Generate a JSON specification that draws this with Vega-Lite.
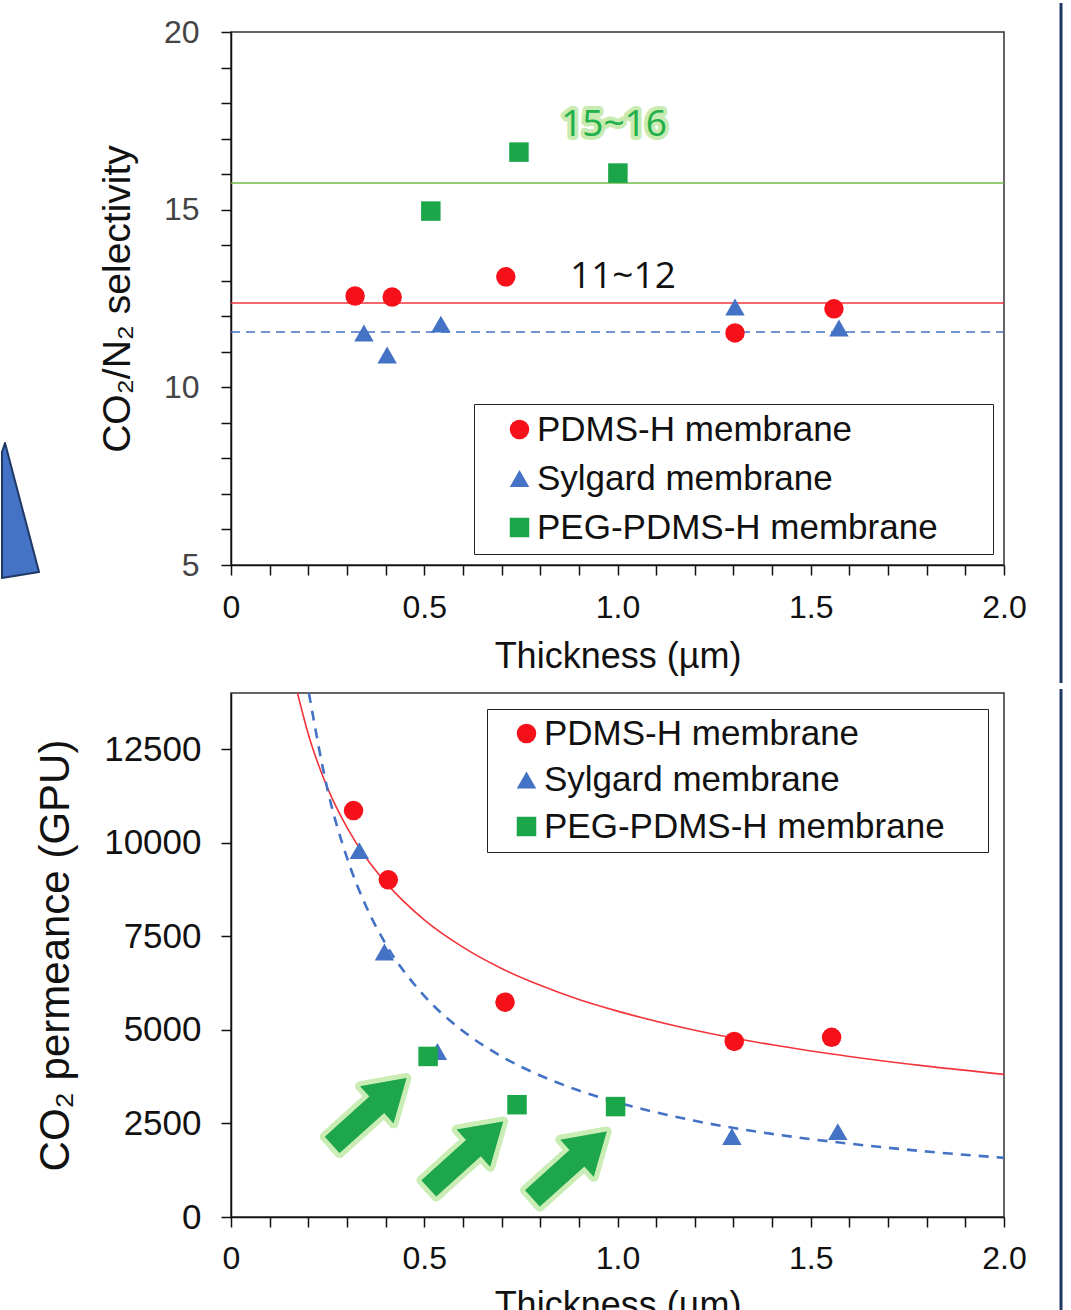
{
  "$schema": "https://vega.github.io/schema/vega-lite/v6.json",
  "padding": 0,
  "background": "white",
  "spacing": 0,
  "config": {
    "view": {"stroke": "#333333", "strokeWidth": 1.5},
    "font": "Liberation Sans",
    "axis": {
      "grid": false, "domainColor": "#111111", "domainWidth": 1.5,
      "tickColor": "#111111", "tickWidth": 1.5, "tickSize": 10,
      "labelFont": "Liberation Sans", "titleFont": "Liberation Sans",
      "labelColor": "#111111", "titleColor": "#111111", "titleFontWeight": "normal",
      "labelFlush": false, "labelOverlap": false
    }
  },
  "datasets": {
    "sel": [
      {"series": "PDMS-H membrane", "t": 0.321, "v": 12.57},
      {"series": "PDMS-H membrane", "t": 0.417, "v": 12.54},
      {"series": "PDMS-H membrane", "t": 0.711, "v": 13.11},
      {"series": "PDMS-H membrane", "t": 1.304, "v": 11.53},
      {"series": "PDMS-H membrane", "t": 1.56, "v": 12.21},
      {"series": "Sylgard membrane", "t": 0.344, "v": 11.53},
      {"series": "Sylgard membrane", "t": 0.404, "v": 10.91},
      {"series": "Sylgard membrane", "t": 0.543, "v": 11.78},
      {"series": "Sylgard membrane", "t": 1.304, "v": 12.26},
      {"series": "Sylgard membrane", "t": 1.573, "v": 11.67},
      {"series": "PEG-PDMS-H membrane", "t": 0.517, "v": 14.96},
      {"series": "PEG-PDMS-H membrane", "t": 0.745, "v": 16.62},
      {"series": "PEG-PDMS-H membrane", "t": 1.001, "v": 16.03}
    ],
    "selLines": [
      {"series": "PEG-PDMS-H membrane", "t": 0, "t2": 2, "v": 15.75},
      {"series": "PDMS-H membrane", "t": 0, "t2": 2, "v": 12.37},
      {"series": "Sylgard membrane", "t": 0, "t2": 2, "v": 11.56}
    ],
    "selNotes": [
      {"label": "15~16", "t": 0.991, "v": 17.38},
      {"label": "11~12", "t": 1.014, "v": 13.11}
    ],
    "perm": [
      {"series": "PDMS-H membrane", "t": 0.317, "v": 10860},
      {"series": "PDMS-H membrane", "t": 0.407, "v": 9010},
      {"series": "PDMS-H membrane", "t": 0.709, "v": 5740},
      {"series": "PDMS-H membrane", "t": 1.302, "v": 4690},
      {"series": "PDMS-H membrane", "t": 1.554, "v": 4800},
      {"series": "Sylgard membrane", "t": 0.332, "v": 9790},
      {"series": "Sylgard membrane", "t": 0.397, "v": 7080},
      {"series": "Sylgard membrane", "t": 0.534, "v": 4420},
      {"series": "Sylgard membrane", "t": 1.296, "v": 2150},
      {"series": "Sylgard membrane", "t": 1.57, "v": 2280},
      {"series": "PEG-PDMS-H membrane", "t": 0.51, "v": 4290},
      {"series": "PEG-PDMS-H membrane", "t": 0.74, "v": 3000},
      {"series": "PEG-PDMS-H membrane", "t": 0.995, "v": 2950}
    ],
    "fits": [
      {"series": "PDMS-H membrane", "t": 0.172, "v": 14000},
      {"series": "PDMS-H membrane", "t": 0.2, "v": 12900},
      {"series": "PDMS-H membrane", "t": 0.25, "v": 11460},
      {"series": "PDMS-H membrane", "t": 0.3, "v": 10410},
      {"series": "PDMS-H membrane", "t": 0.35, "v": 9590},
      {"series": "PDMS-H membrane", "t": 0.4, "v": 8940},
      {"series": "PDMS-H membrane", "t": 0.5, "v": 7940},
      {"series": "PDMS-H membrane", "t": 0.6, "v": 7210},
      {"series": "PDMS-H membrane", "t": 0.7, "v": 6640},
      {"series": "PDMS-H membrane", "t": 0.8, "v": 6190},
      {"series": "PDMS-H membrane", "t": 0.9, "v": 5810},
      {"series": "PDMS-H membrane", "t": 1.0, "v": 5500},
      {"series": "PDMS-H membrane", "t": 1.2, "v": 4990},
      {"series": "PDMS-H membrane", "t": 1.4, "v": 4600},
      {"series": "PDMS-H membrane", "t": 1.6, "v": 4290},
      {"series": "PDMS-H membrane", "t": 1.8, "v": 4030},
      {"series": "PDMS-H membrane", "t": 2.0, "v": 3810},
      {"series": "Sylgard membrane", "t": 0.2015, "v": 14000},
      {"series": "Sylgard membrane", "t": 0.25, "v": 11410},
      {"series": "Sylgard membrane", "t": 0.3, "v": 9600},
      {"series": "Sylgard membrane", "t": 0.35, "v": 8290},
      {"series": "Sylgard membrane", "t": 0.4, "v": 7300},
      {"series": "Sylgard membrane", "t": 0.5, "v": 5910},
      {"series": "Sylgard membrane", "t": 0.6, "v": 4970},
      {"series": "Sylgard membrane", "t": 0.7, "v": 4290},
      {"series": "Sylgard membrane", "t": 0.8, "v": 3780},
      {"series": "Sylgard membrane", "t": 0.9, "v": 3380},
      {"series": "Sylgard membrane", "t": 1.0, "v": 3060},
      {"series": "Sylgard membrane", "t": 1.2, "v": 2570},
      {"series": "Sylgard membrane", "t": 1.4, "v": 2220},
      {"series": "Sylgard membrane", "t": 1.6, "v": 1960},
      {"series": "Sylgard membrane", "t": 1.8, "v": 1750},
      {"series": "Sylgard membrane", "t": 2.0, "v": 1580}
    ],
    "arrows": [
      {"t": 0.358, "v": 2820},
      {"t": 0.608, "v": 1660},
      {"t": 0.876, "v": 1390}
    ]
  },
  "resolve": {
    "scale": {"color": "independent", "shape": "independent"},
    "legend": {"color": "independent", "shape": "independent"}
  },
  "vconcat": [
    {
      "width": 773,
      "height": 533,
      "encoding": {
        "x": {
          "field": "t", "type": "quantitative",
          "scale": {"domain": [0, 2], "nice": false, "zero": false},
          "axis": {
            "title": "Thickness (µm)",
            "values": [0, 0.1, 0.2, 0.3, 0.4, 0.5, 0.6, 0.7, 0.8, 0.9, 1.0, 1.1, 1.2, 1.3, 1.4, 1.5, 1.6, 1.7, 1.8, 1.9, 2.0],
            "labelExpr": "abs(datum.value*2 - round(datum.value*2)) < 0.001 ? (datum.value == 0 ? '0' : format(datum.value, '.1f')) : ''",
            "labelFontSize": 32, "labelPadding": 17,
            "titleFontSize": 36, "titlePadding": 16
          }
        },
        "y": {
          "field": "v", "type": "quantitative",
          "scale": {"domain": [5, 20], "nice": false, "zero": false},
          "axis": {
            "title": "CO₂/N₂  selectivity",
            "values": [5, 6, 7, 8, 9, 10, 11, 12, 13, 14, 15, 16, 17, 18, 19, 20],
            "labelExpr": "datum.value % 5 == 0 ? datum.label : ''",
            "labelFontSize": 32, "labelPadding": 22, "labelColor": "#444444",
            "titleFontSize": 39, "titlePadding": 26
          }
        }
      },
      "layer": [
        {
          "data": {"values": [{"t": -0.5666, "v": 6.49}]},
          "mark": {
            "type": "point", "filled": true, "opacity": 1,
            "shape": "M-0.1,-0.986L0.386,0.857L-0.143,0.943L-0.143,-0.857Z",
            "size": 19600, "fill": "#4472C4", "stroke": "#1F3864", "strokeWidth": 2, "strokeJoin": "round"
          }
        },
        {
          "data": {"values": [{"t": 2.1475, "v": 20.815, "v2": 1.68}]},
          "mark": {"type": "rule", "color": "#203864", "strokeWidth": 3},
          "encoding": {"y2": {"field": "v2"}}
        },
        {
          "data": {"name": "selLines"},
          "transform": [{"filter": "datum.series == 'PEG-PDMS-H membrane'"}],
          "mark": {"type": "rule", "color": "#70B844", "strokeWidth": 1.5},
          "encoding": {"x2": {"field": "t2"}}
        },
        {
          "data": {"name": "selLines"},
          "transform": [{"filter": "datum.series == 'PDMS-H membrane'"}],
          "mark": {"type": "rule", "color": "#F2353B", "strokeWidth": 1.5},
          "encoding": {"x2": {"field": "t2"}}
        },
        {
          "data": {"name": "selLines"},
          "transform": [{"filter": "datum.series == 'Sylgard membrane'"}],
          "mark": {"type": "rule", "color": "#4472C4", "strokeWidth": 1.5, "strokeDash": [9, 6]},
          "encoding": {"x2": {"field": "t2"}}
        },
        {
          "data": {"name": "sel"},
          "mark": {"type": "point", "filled": true, "opacity": 1, "size": 380},
          "encoding": {
            "color": {
              "field": "series", "type": "nominal",
              "scale": {"domain": ["PDMS-H membrane", "Sylgard membrane", "PEG-PDMS-H membrane"], "range": ["#F5101A", "#4472C4", "#1CA64A"]},
              "legend": {
                "orient": "bottom-right", "offset": 11, "title": " ", "titleOrient": "right",
                "titleFontSize": 2, "titlePadding": 47, "padding": 8, "rowPadding": 13,
                "symbolOffset": 20, "labelOffset": 0, "labelFontSize": 35, "labelColor": "#111111",
                "labelFont": "Liberation Sans", "strokeColor": "#222222", "fillColor": "white",
                "symbolSize": 380, "symbolStrokeWidth": 0, "labelLimit": 700
              }
            },
            "shape": {
              "field": "series", "type": "nominal",
              "scale": {"domain": ["PDMS-H membrane", "Sylgard membrane", "PEG-PDMS-H membrane"], "range": ["circle", "triangle-up", "square"]},
              "legend": {
                "orient": "bottom-right", "offset": 11, "title": " ", "titleOrient": "right",
                "titleFontSize": 2, "titlePadding": 47, "padding": 8, "rowPadding": 13,
                "symbolOffset": 20, "labelOffset": 0, "labelFontSize": 35, "labelColor": "#111111",
                "labelFont": "Liberation Sans", "strokeColor": "#222222", "fillColor": "white",
                "symbolSize": 380, "symbolStrokeWidth": 0, "labelLimit": 700
              }
            }
          }
        },
        {
          "data": {"name": "selNotes"},
          "transform": [{"filter": "datum.label == '15~16'"}],
          "mark": {"type": "text", "font": "Open Sans", "fontSize": 37, "fill": "#22B04B", "stroke": "#BFE8A4", "strokeWidth": 8, "strokeOpacity": 0.85, "strokeJoin": "round"},
          "encoding": {"text": {"field": "label"}}
        },
        {
          "data": {"name": "selNotes"},
          "transform": [{"filter": "datum.label == '15~16'"}],
          "mark": {"type": "text", "font": "Open Sans", "fontSize": 37, "fill": "#22B04B"},
          "encoding": {"text": {"field": "label"}}
        },
        {
          "data": {"name": "selNotes"},
          "transform": [{"filter": "datum.label == '11~12'"}],
          "mark": {"type": "text", "font": "Open Sans", "fontSize": 37, "fill": "#111111"},
          "encoding": {"text": {"field": "label"}}
        }
      ]
    },
    {
      "width": 773,
      "height": 524,
      "encoding": {
        "x": {
          "field": "t", "type": "quantitative",
          "scale": {"domain": [0, 2], "nice": false, "zero": false},
          "axis": {
            "title": "Thickness (µm)",
            "values": [0, 0.1, 0.2, 0.3, 0.4, 0.5, 0.6, 0.7, 0.8, 0.9, 1.0, 1.1, 1.2, 1.3, 1.4, 1.5, 1.6, 1.7, 1.8, 1.9, 2.0],
            "labelExpr": "abs(datum.value*2 - round(datum.value*2)) < 0.001 ? (datum.value == 0 ? '0' : format(datum.value, '.1f')) : ''",
            "labelFontSize": 32, "labelPadding": 16,
            "titleFontSize": 36, "titlePadding": 14
          }
        },
        "y": {
          "field": "v", "type": "quantitative",
          "scale": {"domain": [0, 14000], "nice": false, "zero": false},
          "axis": {
            "title": "CO₂  permeance (GPU)",
            "values": [0, 2500, 5000, 7500, 10000, 12500],
            "format": "d",
            "labelFontSize": 35, "labelPadding": 20,
            "titleFontSize": 42, "titlePadding": 26
          }
        }
      },
      "layer": [
        {
          "data": {"values": [{"t": 2.1475, "v": 14107, "v2": -2485}]},
          "mark": {"type": "rule", "color": "#203864", "strokeWidth": 3},
          "encoding": {"y2": {"field": "v2"}}
        },
        {
          "data": {"name": "fits"},
          "transform": [{"filter": "datum.series == 'PDMS-H membrane'"}],
          "mark": {"type": "line", "color": "#F2353B", "strokeWidth": 1.6, "interpolate": "monotone"}
        },
        {
          "data": {"name": "fits"},
          "transform": [{"filter": "datum.series == 'Sylgard membrane'"}],
          "mark": {"type": "line", "color": "#4472C4", "strokeWidth": 2.6, "strokeDash": [10, 8], "interpolate": "monotone"}
        },
        {
          "data": {"name": "arrows"},
          "mark": {
            "type": "point", "filled": true, "opacity": 1, "angle": 318,
            "shape": "M-1,-0.22L0.2,-0.22L0.2,-0.5L1,0L0.2,0.5L0.2,0.22L-1,0.22Z",
            "size": 10000, "fill": "#1DA64A", "stroke": "#B8E59C", "strokeWidth": 10, "strokeOpacity": 0.75, "strokeJoin": "round"
          }
        },
        {
          "data": {"name": "arrows"},
          "mark": {
            "type": "point", "filled": true, "opacity": 1, "angle": 318,
            "shape": "M-1,-0.22L0.2,-0.22L0.2,-0.5L1,0L0.2,0.5L0.2,0.22L-1,0.22Z",
            "size": 10000, "fill": "#1DA64A"
          }
        },
        {
          "data": {"name": "perm"},
          "mark": {"type": "point", "filled": true, "opacity": 1, "size": 380},
          "encoding": {
            "color": {
              "field": "series", "type": "nominal",
              "scale": {"domain": ["PDMS-H membrane", "Sylgard membrane", "PEG-PDMS-H membrane"], "range": ["#F5101A", "#4472C4", "#1CA64A"]},
              "legend": {
                "orient": "top-right", "offset": 16, "title": " ", "titleOrient": "right",
                "titleFontSize": 2, "titlePadding": 36, "padding": 7, "rowPadding": 10.5,
                "symbolOffset": 15, "labelOffset": 0, "labelFontSize": 35, "labelColor": "#111111",
                "labelFont": "Liberation Sans", "strokeColor": "#222222", "fillColor": "white",
                "symbolSize": 380, "symbolStrokeWidth": 0, "labelLimit": 700
              }
            },
            "shape": {
              "field": "series", "type": "nominal",
              "scale": {"domain": ["PDMS-H membrane", "Sylgard membrane", "PEG-PDMS-H membrane"], "range": ["circle", "triangle-up", "square"]},
              "legend": {
                "orient": "top-right", "offset": 16, "title": " ", "titleOrient": "right",
                "titleFontSize": 2, "titlePadding": 36, "padding": 7, "rowPadding": 10.5,
                "symbolOffset": 15, "labelOffset": 0, "labelFontSize": 35, "labelColor": "#111111",
                "labelFont": "Liberation Sans", "strokeColor": "#222222", "fillColor": "white",
                "symbolSize": 380, "symbolStrokeWidth": 0, "labelLimit": 700
              }
            }
          }
        }
      ]
    }
  ]
}
